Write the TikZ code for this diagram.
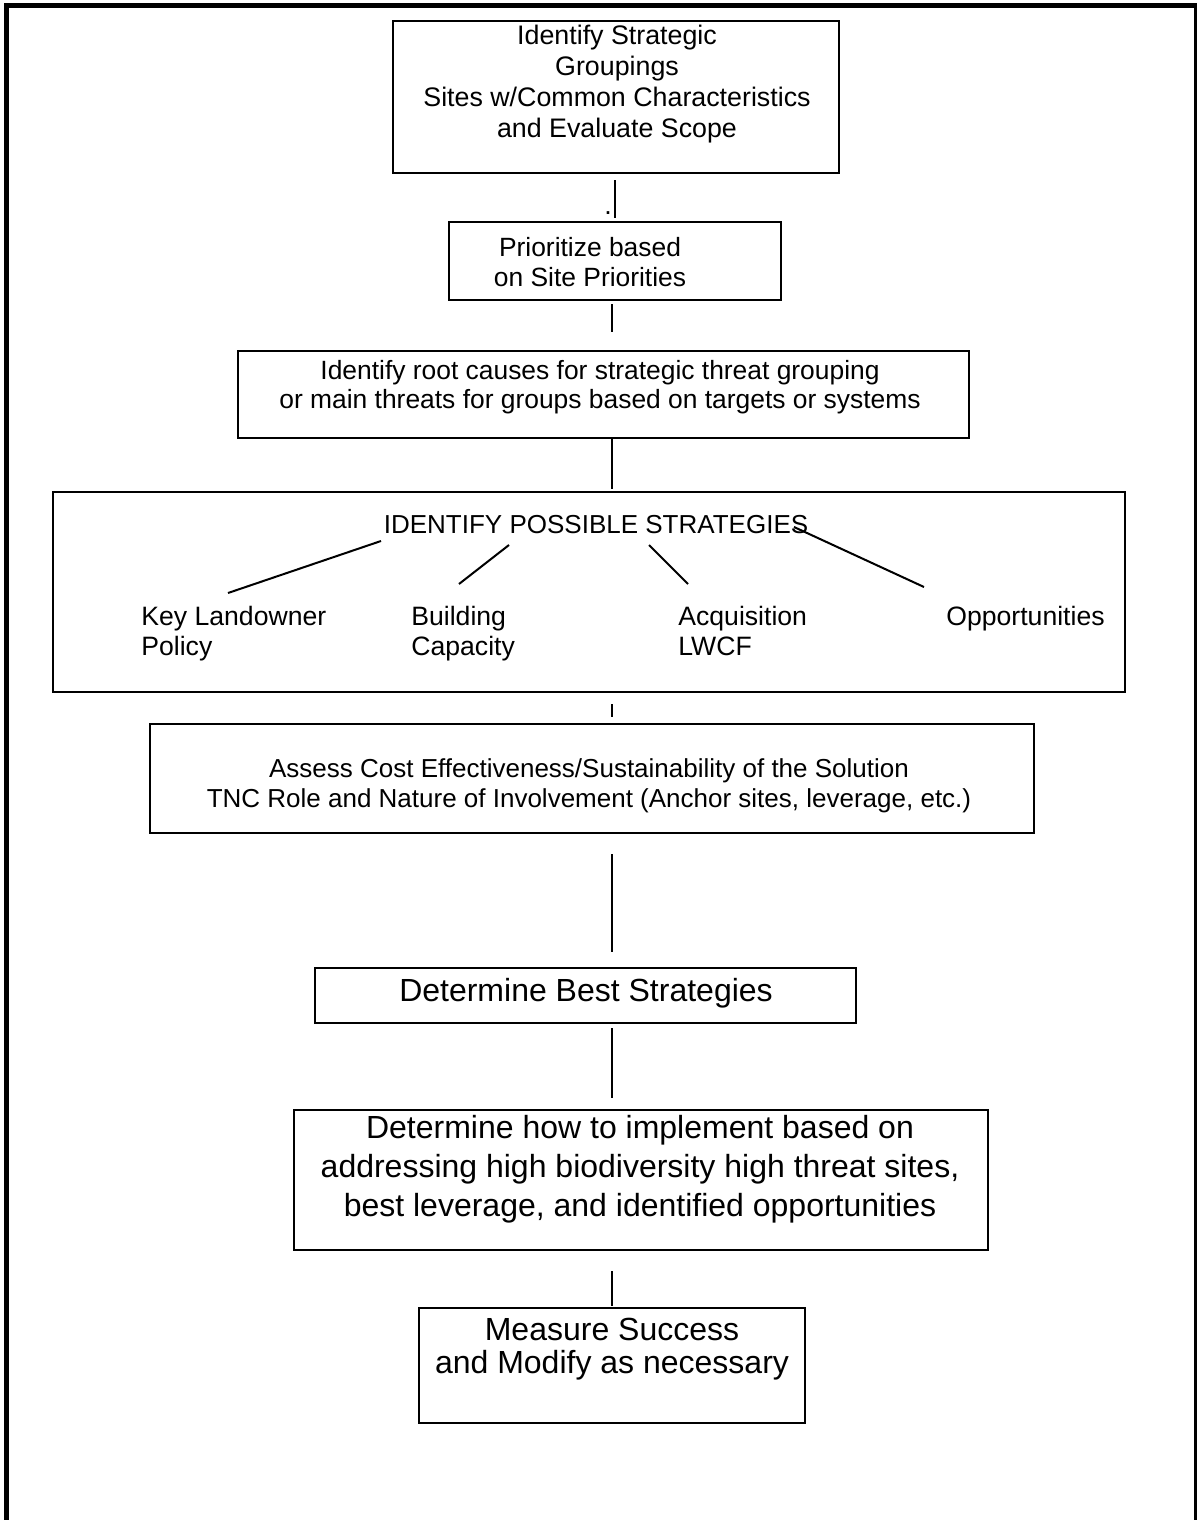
\documentclass[tikz,border=0pt]{standalone}
\usepackage{fontspec}
\setmainfont{Liberation Sans}
\usetikzlibrary{fit}
\newcommand\setfs[2]{\fontsize{#1}{#2}\selectfont}

\begin{document}
\begin{tikzpicture}[x=0.5pt,y=-0.5pt,
        box/.style={draw, line width=1.2pt, inner sep=0pt},
        link/.style={line width=1pt},
        txt/.style={align=center, inner sep=0pt},
        lbl/.style={align=left, anchor=north west, inner sep=0pt, font=\setfs{13.3}{15}}]
        \useasboundingbox (0,0) rectangle (1196,1520);

        % Page frame
        \draw[line width=2.4pt] (6.4,5.6) rectangle (1196.6,1540);

        % Strategic groupings
        \node[box, fit={(393,21) (839,173)}] (grp) {};
        \node[txt, font=\setfs{13.4}{15.4}] (grptxt) at (617,84) {Identify Strategic\\Groupings\\Sites w/Common Characteristics\\and Evaluate Scope};
        \node[anchor=base, inner sep=0pt, font=\setfs{13.4}{15.4}] (stray) at (608,214) {.}; % stray dot

        % Site priorities
        \node[box, fit={(449,222) (781,300)}] (prio) {};
        \node[txt, font=\setfs{13.2}{15}] (priotxt) at (590,262) {Prioritize based\\on Site Priorities};

        % Root causes
        \node[box, fit={(238,351) (969,438)}] (root) {};
        \node[txt, font=\setfs{13.2}{14.5}] (roottxt) at (600,387) {Identify root causes for strategic threat grouping\\or main threats for groups based on targets or systems};

        % Possible strategies
        \node[box, fit={(53,492) (1125,692)}] (strat) {};
        \node[txt, font=\setfs{13}{15}] (strattl) at (596,525) {IDENTIFY POSSIBLE STRATEGIES};
        \node[lbl] (key) at (141,606) {Key Landowner\\Policy};
        \node[lbl] (build) at (411,606) {Building\\Capacity};
        \node[lbl] (acq) at (678,606) {Acquisition\\LWCF};
        \node[lbl] (opp) at (946,606) {Opportunities};
        \coordinate (b1) at (381,541); \coordinate (e1) at (228,593);
        \coordinate (b2) at (509,545); \coordinate (e2) at (459,584);
        \coordinate (b3) at (649,545); \coordinate (e3) at (688,584);
        \coordinate (b4) at (794,527); \coordinate (e4) at (924,587);
        \foreach \s/\e in {b1/e1, b2/e2, b3/e3, b4/e4}
            \draw[link] (\s) -- (\e);

        % Cost effectiveness
        \node[box, fit={(150,724) (1034,833)}] (cost) {};
        \node[txt, font=\setfs{13}{15}] (costtxt) at (589,786) {Assess Cost Effectiveness/Sustainability of the Solution\\TNC Role and Nature of Involvement (Anchor sites, leverage, etc.)};

        % Best strategies
        \node[box, fit={(315,968) (856,1023)}] (best) {};
        \node[txt, font=\setfs{16}{18}] (besttxt) at (586,993) {Determine Best Strategies};

        % Implementation
        \node[box, fit={(294,1110) (988,1250)}] (impl) {};
        \node[txt, font=\setfs{16}{19.5}] (impltxt) at (640,1169) {Determine how to implement based on\\addressing high biodiversity high threat sites,\\best leverage, and identified opportunities};

        % Measure success
        \node[box, fit={(419,1308) (805,1423)}] (meas) {};
        \node[txt, font=\setfs{16}{16.5}] (meastxt) at (612,1349) {Measure Success\\and Modify as necessary};

        % Connectors
        \coordinate (spine) at (612,0);
        \coordinate (spineA) at (615,0);
        \draw[link, shorten <=3pt, shorten >=1.5pt] (grp.south -| spineA) -- (prio.north -| spineA);
        \draw[link, shorten <=1.5pt, shorten >=9pt] (prio.south -| spine) -- (root.north -| spine);
        \draw[link, shorten >=1pt] (root.south -| spine) -- (strat.north -| spine);
        \draw[link, shorten <=5.5pt, shorten >=3pt] (strat.south -| spine) -- (cost.north -| spine);
        \draw[link, shorten <=10pt, shorten >=7.5pt] (cost.south -| spine) -- (best.north -| spine);
        \draw[link, shorten <=2pt, shorten >=5.5pt] (best.south -| spine) -- (impl.north -| spine);
        \draw[link, shorten <=10pt, shorten >=0.5pt] (impl.south -| spine) -- (meas.north -| spine);
\end{tikzpicture}
\end{document}
